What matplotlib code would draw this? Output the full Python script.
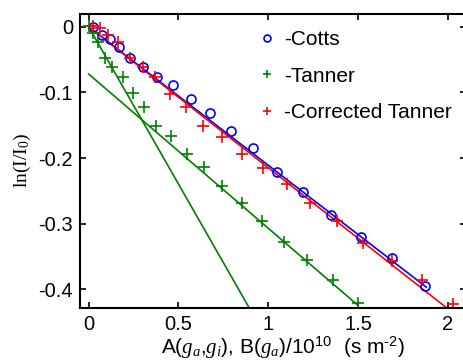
import numpy as np
import matplotlib
matplotlib.use("Agg")
import matplotlib.pyplot as plt
from matplotlib.lines import Line2D

plt.rcParams['font.family'] = ['Liberation Sans', 'DejaVu Sans']
plt.rcParams['mathtext.fontset'] = 'custom'
plt.rcParams['mathtext.rm'] = 'Liberation Serif'
plt.rcParams['mathtext.it'] = 'Liberation Serif:italic'
plt.rcParams['mathtext.sf'] = 'Liberation Sans'
plt.rcParams['axes.unicode_minus'] = False

# Cotts data (blue circles)
cotts_x = [0.022, 0.075, 0.119, 0.171, 0.232, 0.301, 0.379, 0.468, 0.568, 0.675,
           0.791, 0.916, 1.050, 1.195, 1.349, 1.516, 1.687, 1.873]
cotts_y = [-0.001, -0.012, -0.018, -0.031, -0.047, -0.061, -0.077, -0.089, -0.110, -0.131,
           -0.159, -0.184, -0.221, -0.252, -0.287, -0.320, -0.352, -0.395]

# Tanner data (green plus)
tanner_x = [0.004, 0.026, 0.053, 0.091, 0.128, 0.189, 0.245, 0.308, 0.375, 0.457,
            0.546, 0.642, 0.741, 0.852, 0.963, 1.087, 1.217, 1.362, 1.501]
tanner_y = [0.001, -0.009, -0.024, -0.047, -0.061, -0.077, -0.101, -0.123, -0.151, -0.167,
            -0.194, -0.214, -0.242, -0.268, -0.296, -0.328, -0.356, -0.386, -0.421]

# Corrected Tanner data (red plus)
corr_x = [0.022, 0.063, 0.109, 0.165, 0.230, 0.301, 0.372, 0.453, 0.542, 0.638,
          0.741, 0.855, 0.972, 1.102, 1.232, 1.381, 1.529, 1.690, 1.858, 2.030]
corr_y = [0.001, -0.002, -0.012, -0.023, -0.047, -0.061, -0.076, -0.102, -0.123, -0.151,
          -0.168, -0.194, -0.215, -0.240, -0.268, -0.296, -0.329, -0.357, -0.386, -0.423]

# Fit lines: (intercept, slope, x_start, x_end)
cotts_fit = (0.0, -0.2110, 0.0, 1.88)
corr_fit = (0.0, -0.2148, 0.0, 2.05)
tanner_fit_steep = (0.0, -0.479, 0.0, 0.92)
tanner_fit_shallow = (-0.072, -0.235, 0.0, 1.50)

xticks = [0, 0.5, 1, 1.5, 2]
xticklabels = ['0', '0.5', '1', '1.5', '2']
yticks = [0, -0.1, -0.2, -0.3, -0.4]
yticklabels = ['0', '-0.1', '-0.2', '-0.3', '-0.4']

blue = '#0000ff'
green = '#008000'
red = '#ff0000'

fig = plt.figure(figsize=(4.64, 3.61), dpi=100)
ax = fig.add_axes([80/464, (361-307.7)/361, (466-80)/464, (307.7-14)/361])

def fit_line(fit, color):
    a, b, x0, x1 = fit
    xs = np.array([x0, x1])
    ax.plot(xs, a + b*xs, color=color, lw=1.2)

fit_line(cotts_fit, blue)
fit_line(corr_fit, red)
fit_line(tanner_fit_steep, green)
fit_line(tanner_fit_shallow, green)

ax.plot(cotts_x, cotts_y, 'o', mfc='none', mec=blue, mew=1.2, ms=6.5, ls='none')
ax.plot(tanner_x, tanner_y, '+', color=green, mew=1.2, ms=8, ls='none')
ax.plot(corr_x, corr_y, '+', color=red, mew=1.2, ms=8, ls='none')

ax.set_xlim(-0.048, 2.101)
ax.set_ylim(-0.428, 0.0194)
ax.set_xticks(xticks)
ax.set_xticklabels(xticklabels)
ax.set_yticks(yticks)
ax.set_yticklabels(yticklabels)
ax.tick_params(direction='in', length=4, width=1.2, labelsize=14.5, top=True, right=True, pad=5)
for s in ax.spines.values():
    s.set_linewidth(1.5)

ax.set_ylabel(r'ln(I/I$_0$)', family='Liberation Serif', fontsize=14, labelpad=4)
ax.set_xlabel('A($g_a$,$g_i$), B($g_a$)/10$^{\\mathsf{10}}$  (s m$^{\\mathsf{\u20102}}$)',
              fontsize=15, labelpad=1, x=0.525)

handles = [Line2D([], [], marker='o', mfc='none', mec=blue, mew=1.2, ms=5, ls='none'),
           Line2D([], [], marker='+', color=green, mew=1.2, ms=6, ls='none'),
           Line2D([], [], marker='+', color=red, mew=1.2, ms=6, ls='none')]
labels = ['-Cotts', '-Tanner', '-Corrected Tanner']
ax.legend(handles, labels, loc='upper left', bbox_to_anchor=((262-80)/386, 1.0 - (30-14)/293.7),
          frameon=False, fontsize=15, handlelength=0.5, handletextpad=0.55, labelspacing=0.85,
          borderaxespad=0, borderpad=0)

fig.savefig('out.png', dpi=100)
